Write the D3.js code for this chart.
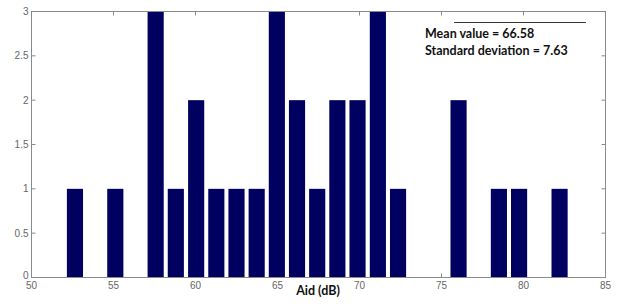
<!DOCTYPE html>
<html><head><meta charset="utf-8">
<script src="https://cdn.jsdelivr.net/npm/d3@7"></script>
<style>html,body{margin:0;padding:0;background:#fff;}svg{display:block;}</style>
</head><body>
<svg id="c" width="617" height="306"></svg>
<script>
const binCenters = [52.65,53.88,55.11,56.34,57.57,58.80,60.04,61.27,62.50,63.73,64.96,66.19,67.42,68.65,69.88,71.12,72.35,73.58,74.81,76.04,77.27,78.50,79.73,80.97,82.20];
const counts     = [1,0,1,0,3,1,2,1,1,1,3,2,1,2,2,3,1,0,0,2,0,1,1,0,1];
const xTicks = [50,55,60,65,70,75,80,85];
const yTicks = [0,0.5,1,1.5,2,2.5,3];
const yTickLabels = ["0","0.5","1","1.5","2","2.5","3"];
const statLines = ["Mean value = 66.58","Standard deviation = 7.63"];
const xLabel = "Aid (dB)";

const svg = d3.select("#c");
const L=31.5, R=605.5, T=11.5, B=277.5;
const x = d3.scaleLinear().domain([50,85]).range([L,R]);
const y = d3.scaleLinear().domain([0,3]).range([B,T]);
const axisCol="#8a8a8a", labCol="#666";

// inward ticks, all four sides (drawn below bars)
const tk=4;
const g=svg.append("g");
xTicks.forEach(v=>{
  g.append("line").attr("x1",x(v)).attr("x2",x(v)).attr("y1",B).attr("y2",B-tk).attr("stroke",axisCol);
  g.append("line").attr("x1",x(v)).attr("x2",x(v)).attr("y1",T).attr("y2",T+tk).attr("stroke",axisCol);
});
yTicks.forEach(v=>{
  g.append("line").attr("x1",L).attr("x2",L+tk).attr("y1",y(v)).attr("y2",y(v)).attr("stroke",axisCol);
  g.append("line").attr("x1",R).attr("x2",R-tk).attr("y1",y(v)).attr("y2",y(v)).attr("stroke",axisCol);
});

// bars
const step = x(binCenters[1])-x(binCenters[0]);
const bw = step*0.8;
svg.append("g").selectAll("rect").data(binCenters.map((c,i)=>({c,n:counts[i]})).filter(d=>d.n>0))
  .join("rect")
  .attr("x",d=>x(d.c)-bw/2).attr("width",bw)
  .attr("y",d=>y(d.n)).attr("height",d=>y(0)-y(d.n))
  .attr("fill","#000060");

// box
svg.append("rect").attr("x",L).attr("y",T).attr("width",R-L).attr("height",B-T)
  .attr("fill","none").attr("stroke",axisCol).attr("stroke-width",1);

// tick labels
const tf="'Liberation Sans', Arial, sans-serif";
svg.append("g").selectAll("text").data(xTicks).join("text")
  .attr("x",d=>x(d)).attr("y",289).attr("text-anchor","middle")
  .attr("font-family",tf).attr("font-size",10).attr("fill",labCol).text(d=>d);
svg.append("g").selectAll("text").data(yTicks).join("text")
  .attr("x",L-3).attr("y",(d,i)=>y(d)+(i===0?1:3.5)).attr("text-anchor","end")
  .attr("font-family",tf).attr("font-size",10).attr("fill",labCol).text((d,i)=>yTickLabels[i]);

// x label
svg.append("text").attr("x",318).attr("y",295).attr("text-anchor","middle")
  .attr("font-family","Lato, 'Open Sans', sans-serif").attr("font-weight","bold").attr("font-size",12.5)
  .attr("fill","#111").text(xLabel);

// stats box
svg.append("line").attr("x1",454).attr("x2",586).attr("y1",22.5).attr("y2",22.5).attr("stroke","#333").attr("stroke-width",1);
statLines.forEach((s,i)=>{
  svg.append("text").attr("x",425).attr("y",37.5+i*17.5)
    .attr("font-family","Lato, 'Open Sans', sans-serif").attr("font-weight","bold").attr("font-size",12.5)
    .attr("fill","#111").text(s);
});
</script>
</body></html>
